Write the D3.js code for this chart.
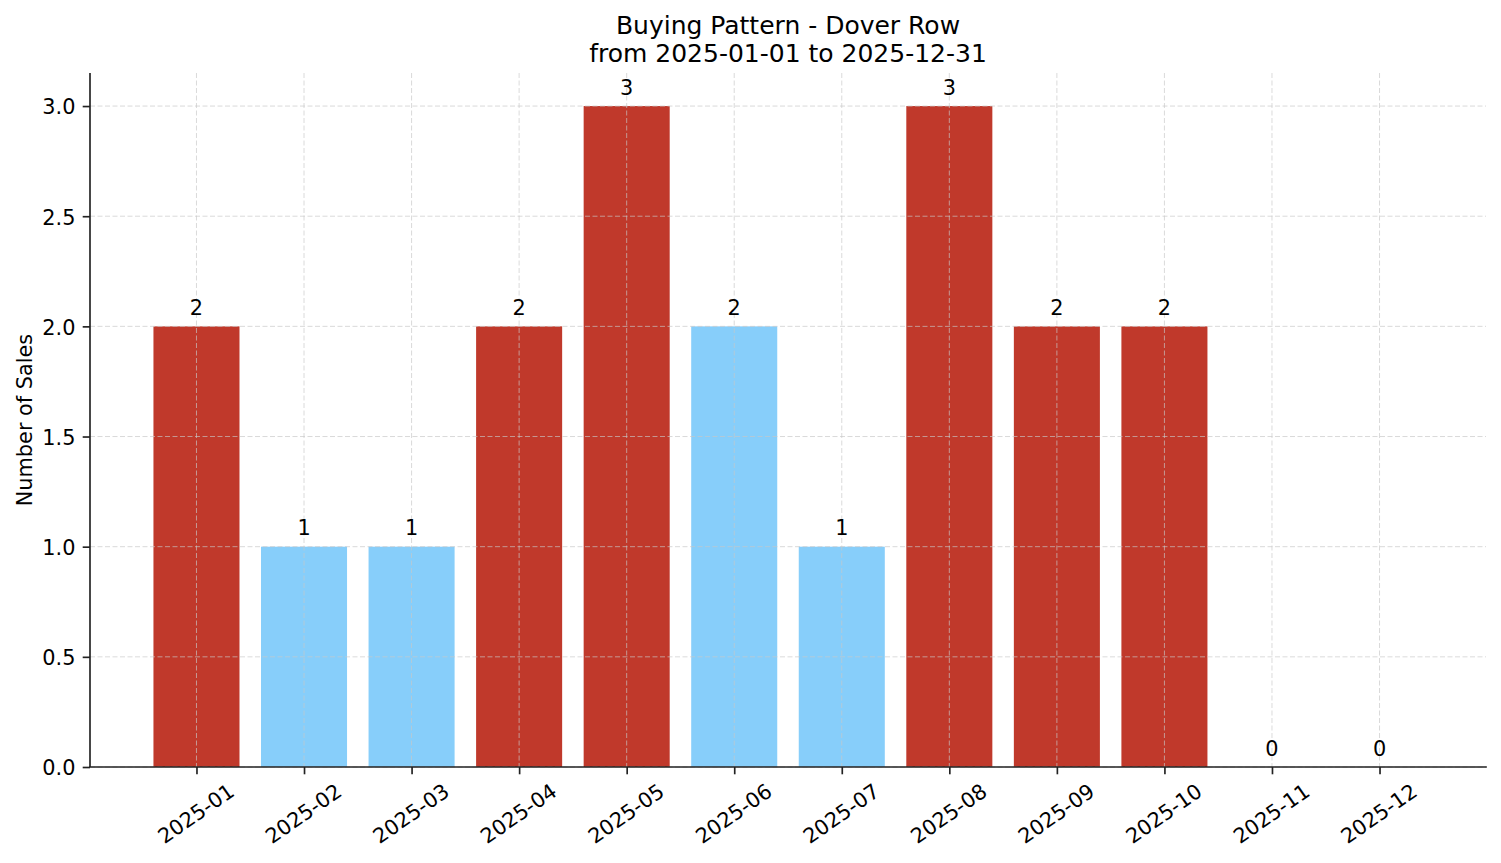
<!DOCTYPE html>
<html>
<head>
<meta charset="utf-8">
<script src="https://cdn.jsdelivr.net/npm/d3@7"></script>
<style>
  html, body { margin: 0; padding: 0; background: #fff; }
  svg { display: block; font-family: "DejaVu Sans", sans-serif; }
</style>
</head>
<body>
<svg id="chart" width="1501" height="863"></svg>
<script>
// ---- data ----
const months = ["2025-01","2025-02","2025-03","2025-04","2025-05","2025-06","2025-07","2025-08","2025-09","2025-10","2025-11","2025-12"];
const sales  = [2, 1, 1, 2, 3, 2, 1, 3, 2, 2, 0, 0];
const highlight = [true, false, false, true, true, false, false, true, true, true, false, false];
const yTicks = [0, 0.5, 1.0, 1.5, 2.0, 2.5, 3.0];
const titleLines = ["Buying Pattern - Dover Row", "from 2025-01-01 to 2025-12-31"];
const yLabel = "Number of Sales";

(function () {
// ---- layout ----
const plotL = 90, plotR = 1486, plotT = 73, plotB = 767;
const fs = 20.83, titleFs = 25;
const tickLen = 7.3, tickPad = 7.3;
const barW = 0.8;
const colorHigh = "#c0392b", colorLow = "#87cefa";
const axisColor = "#222";

const svg = d3.select("#chart");

const x = d3.scaleLinear().domain([-0.4 - 0.59, months.length - 1 + 0.4 + 0.59]).range([plotL, plotR]);
const y = d3.scaleLinear().domain([0, 3.15]).range([plotB, plotT]);

// bars
svg.append("g").selectAll("rect").data(sales).join("rect")
  .attr("x", (d, i) => x(i - barW / 2))
  .attr("width", (d, i) => x(i + barW / 2) - x(i - barW / 2))
  .attr("y", d => y(d))
  .attr("height", d => y(0) - y(d))
  .attr("fill", (d, i) => highlight[i] ? colorHigh : colorLow);

// grid (drawn above bars)
const grid = svg.append("g").attr("stroke", "#c8c8c8").attr("stroke-opacity", 0.75)
  .attr("stroke-width", 0.9).attr("stroke-dasharray", "5,2.5").attr("fill", "none");
grid.selectAll("line.h").data(yTicks).join("line").attr("class", "h")
  .attr("x1", plotL).attr("x2", plotR).attr("y1", d => y(d)).attr("y2", d => y(d));
grid.selectAll("line.v").data(months).join("line").attr("class", "v")
  .attr("x1", (d, i) => x(i)).attr("x2", (d, i) => x(i)).attr("y1", plotT).attr("y2", plotB);

// y axis
const yAxis = d3.axisLeft(y).tickValues(yTicks).tickFormat(d3.format(".1f"))
  .tickSize(tickLen).tickPadding(tickPad);
const gy = svg.append("g").attr("transform", `translate(${plotL},0)`).call(yAxis);
gy.select(".domain").remove();
gy.selectAll(".tick line").attr("stroke", axisColor).attr("stroke-width", 1.67);
gy.selectAll(".tick text").attr("fill", "#000").style("font-size", fs + "px")
  .style("font-family", "DejaVu Sans").attr("dy", "0.38em");

// x axis
const xAxis = d3.axisBottom(x).tickValues(d3.range(months.length)).tickFormat(i => months[i])
  .tickSize(tickLen).tickPadding(tickPad);
const gx = svg.append("g").attr("transform", `translate(0,${plotB})`).call(xAxis);
gx.select(".domain").remove();
gx.selectAll(".tick line").attr("stroke", axisColor).attr("stroke-width", 1.67);
gx.selectAll(".tick text").each(function () {
  const t = d3.select(this);
  t.attr("fill", "#000").style("font-size", fs + "px").style("font-family", "DejaVu Sans")
   .attr("text-anchor", "middle").attr("dy", null);
  const w = this.getComputedTextLength();
  const h = fs * 1.0;
  const a = 35 * Math.PI / 180;
  const bh = w * Math.sin(a) + h * Math.cos(a);
  const cy = tickLen + tickPad + bh / 2;
  t.attr("transform", `translate(0,${cy}) rotate(-35)`)
   .attr("y", 0.262 * fs);
});

// spines
svg.append("line").attr("x1", plotL).attr("x2", plotL).attr("y1", plotT).attr("y2", plotB)
  .attr("stroke", axisColor).attr("stroke-width", 1.67);
svg.append("line").attr("x1", plotL).attr("x2", plotR).attr("y1", plotB).attr("y2", plotB)
  .attr("stroke", axisColor).attr("stroke-width", 1.67).attr("stroke-linecap", "square");

// bar labels
svg.append("g").selectAll("text").data(sales).join("text")
  .attr("x", (d, i) => x(i))
  .attr("y", d => y(d) - 11.5)
  .attr("text-anchor", "middle")
  .style("font-size", fs + "px")
  .attr("fill", "#000")
  .text(d => d);

// title
svg.append("g").selectAll("text").data(titleLines).join("text")
  .attr("x", (plotL + plotR) / 2)
  .attr("y", (d, i) => 33.5 + i * 28.5)
  .attr("text-anchor", "middle")
  .style("font-size", titleFs + "px")
  .attr("fill", "#000")
  .text(d => d);

// y label
svg.append("text")
  .attr("transform", `translate(31.5,${(plotT + plotB) / 2}) rotate(-90)`)
  .attr("text-anchor", "middle")
  .style("font-size", fs + "px")
  .attr("fill", "#000")
  .text(yLabel);
})();
</script>
</body>
</html>
